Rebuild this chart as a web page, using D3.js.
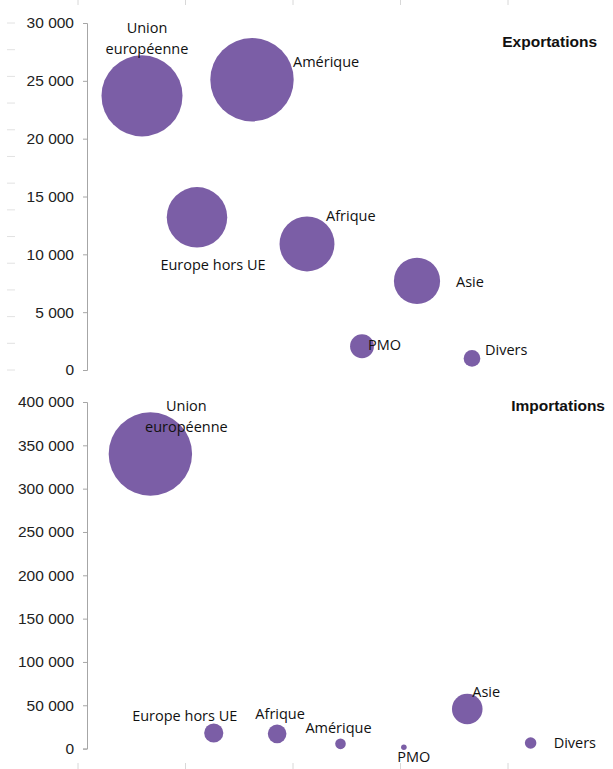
<!DOCTYPE html>
<html>
<head>
<meta charset="utf-8">
<script src="https://cdn.jsdelivr.net/npm/d3@7"></script>
<style>
  html, body { margin: 0; padding: 0; background: #fff; }
  svg { display: block; }
</style>
</head>
<body>
<svg id="chart" width="613" height="769"></svg>
<script>
// ---- Data ----
// Exportations (top chart)
const exportCategories = ["Union européenne", "Europe hors UE", "Amérique", "Afrique", "PMO", "Asie", "Divers"];
const exportX = [1, 2, 3, 4, 5, 6, 7];
const exportValues = [23700, 13200, 25100, 10900, 2050, 7700, 1000];
const exportTicks = [0, 5000, 10000, 15000, 20000, 25000, 30000];

// Importations (bottom chart)
const importCategories = ["Union européenne", "Europe hors UE", "Afrique", "Amérique", "PMO", "Asie", "Divers"];
const importX = [1, 2, 3, 4, 5, 6, 7];
const importValues = [340000, 18000, 17000, 5500, 1500, 45700, 6500];
const importTicks = [0, 50000, 100000, 150000, 200000, 250000, 300000, 350000, 400000];

// ---- Drawing ----
const svg = d3.select("#chart");
const color = "#7b5ea6";
const fmt = v => d3.format(",")(v).replace(/,/g, " ");
const labelFont = "'Open Sans', 'Noto Sans', sans-serif";
const axisFont = "'Liberation Sans', Arial, sans-serif";

// faint remnant tick marks (cropped neighbouring axes)
const faintTop = d3.scaleLinear().domain([0, 13]).range([370, 23]);
svg.append("g").selectAll("line").data(d3.range(0, 14)).join("line")
  .attr("x1", 7).attr("x2", 15)
  .attr("y1", d => faintTop(d)).attr("y2", d => faintTop(d))
  .attr("stroke", "#e2e2e2").attr("stroke-width", 1);
const faintX = d3.scaleLinear().domain([0, 4]).range([78, 508]);
svg.append("g").selectAll("line").data(d3.range(0, 5)).join("line")
  .attr("x1", d => faintX(d)).attr("x2", d => faintX(d))
  .attr("y1", 0).attr("y2", 5)
  .attr("stroke", "#d8d8d8");
svg.append("g").selectAll("line").data(d3.range(0, 5)).join("line")
  .attr("x1", d => faintX(d)).attr("x2", d => faintX(d))
  .attr("y1", 763).attr("y2", 769)
  .attr("stroke", "#d8d8d8");

function drawPanel(cfg) {
  const g = svg.append("g");
  const y = d3.scaleLinear().domain([0, cfg.ticks[cfg.ticks.length - 1]]).range(cfg.yRange);
  const x = d3.scaleLinear().domain(cfg.xDomain).range(cfg.xRange);
  const r = d3.scaleSqrt().domain([0, d3.max(cfg.values)]).range([0, 41.7]);

  const axis = d3.axisLeft(y).tickValues(cfg.ticks).tickFormat(fmt).tickSizeInner(4).tickSizeOuter(4).tickPadding(9);
  const ag = g.append("g").attr("transform", `translate(${cfg.xRange[0]},0)`).call(axis);
  ag.select(".domain").attr("stroke", "#a6a6a6");
  ag.selectAll(".tick line").attr("stroke", "#a6a6a6");
  ag.selectAll(".tick text").attr("font-family", axisFont).attr("font-size", 15.5).attr("fill", "#222");

  const data = cfg.categories.map((c, i) => ({ c, x: cfg.xs[i], v: cfg.values[i] }));
  g.append("g").selectAll("circle").data(data).join("circle")
    .attr("cx", d => x(d.x)).attr("cy", d => y(d.v)).attr("r", d => r(d.v))
    .attr("fill", color);

  // labels
  const lg = g.append("g").attr("font-family", labelFont).attr("font-size", 14.5).attr("fill", "#111");
  data.forEach((d, i) => {
    const L = cfg.labels[i];
    const cx = x(d.x), cy = y(d.v);
    const lines = L.lines || [d.c];
    const t = lg.append("text").attr("text-anchor", L.anchor).attr("dominant-baseline", "middle");
    lines.forEach((s, k) => {
      t.append("tspan").attr("x", cx + L.dx).attr("y", cy + L.dy + k * 21).text(s);
    });
  });

  g.append("text").attr("x", cfg.titleX).attr("y", cfg.titleY)
    .attr("text-anchor", "end").attr("dominant-baseline", "middle")
    .attr("font-family", axisFont).attr("font-weight", "bold").attr("font-size", 15.5)
    .attr("fill", "#111").text(cfg.title);
}

drawPanel({
  categories: exportCategories, xs: exportX, values: exportValues, ticks: exportTicks,
  yRange: [370, 23], xDomain: [0, 9], xRange: [87, 582],
  title: "Exportations", titleX: 597, titleY: 43,
  labels: [
    { anchor: "middle", dx: 5, dy: -67, lines: ["Union", "européenne"] },
    { anchor: "middle", dx: 16, dy: 49 },
    { anchor: "start", dx: 41, dy: -17 },
    { anchor: "start", dx: 19, dy: -27 },
    { anchor: "start", dx: 6, dy: 0 },
    { anchor: "start", dx: 39, dy: 2 },
    { anchor: "start", dx: 13, dy: -7 }
  ]
});

drawPanel({
  categories: importCategories, xs: importX, values: importValues, ticks: importTicks,
  yRange: [748.6, 402], xDomain: [0, 8], xRange: [87, 594],
  title: "Importations", titleX: 605, titleY: 407,
  labels: [
    { anchor: "middle", dx: 36, dy: -47, lines: ["Union", "européenne"] },
    { anchor: "middle", dx: -29, dy: -16 },
    { anchor: "middle", dx: 3, dy: -19 },
    { anchor: "middle", dx: -2, dy: -15 },
    { anchor: "middle", dx: 10, dy: 11 },
    { anchor: "start", dx: 5, dy: -16 },
    { anchor: "start", dx: 23, dy: 1 }
  ]
});
</script>
</body>
</html>
